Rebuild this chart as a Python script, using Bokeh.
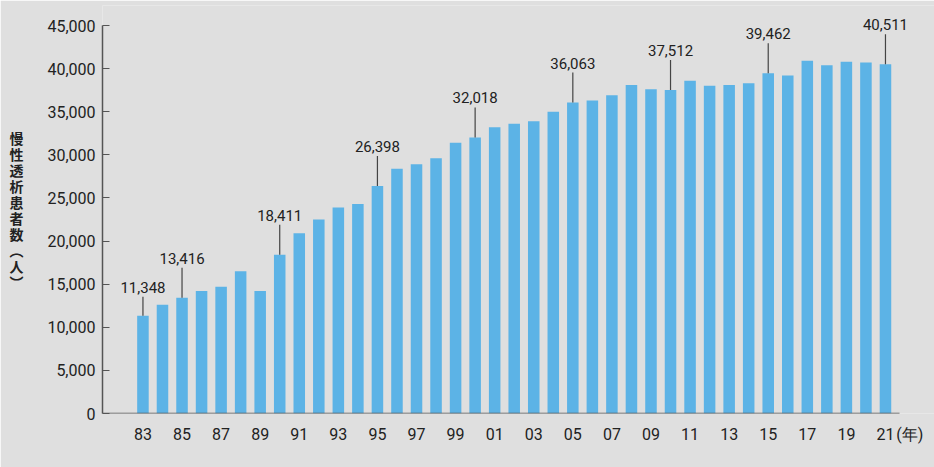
from bokeh.plotting import figure
from bokeh.models import FixedTicker, ColumnDataSource
from bokeh.core.properties import value
from bokeh.embed import file_html
from bokeh.resources import INLINE

years = list(range(1983, 2022))
patients = [11348, 12600, 13416, 14200, 14700, 16500, 14200, 18411, 20900, 22500,
            23900, 24300, 26398, 28400, 28900, 29600, 31400, 32018, 33200, 33600,
            33900, 35000, 36063, 36300, 36900, 38100, 37600, 37512, 38600, 38000,
            38100, 38300, 39462, 39200, 40900, 40400, 40800, 40700, 40511]
label_years = [1983, 1985, 1990, 1995, 2000, 2005, 2010, 2015, 2021]
tick_years = list(range(1983, 2022, 2))
tick_labels = [f"{y % 100:02d}" for y in tick_years]
y_ticks = list(range(0, 45001, 5000))
y_title = "慢\n性\n透\n析\n患\n者\n数\n︵\n人\n︶"
x_unit = "(年)"

BG = "#dfdfdf"
BAR = "#5cb3e6"
TXT = "#222222"
AX = "#555555"

W, H = 934, 467
ML, MR, MT, MB = 102, 0, 5, 54
frame_h = H - MT - MB           # 408 px
Y_AXIS_MAX = 45000
axis_px = 388                   # pixels from 0 to 45,000
upp = Y_AXIS_MAX / axis_px      # data units per pixel
y_end = frame_h * upp

X_START = 1980.93
X_AXIS_END = 2021.72            # where the baseline stops
px_per_year = 19.54
x_end = X_START + (W - ML - MR) / px_per_year
unit_pos = 2022.25              # position of the unit text on the x axis

p = figure(width=W, height=H, output_backend="svg", toolbar_location=None,
           x_range=(X_START, x_end), y_range=(0, y_end),
           min_border_left=ML, min_border_right=MR, min_border_top=MT, min_border_bottom=MB)
p.background_fill_color = BG
p.border_fill_color = BG
p.outline_line_color = None
p.grid.grid_line_color = None

src = ColumnDataSource(dict(x=years, top=patients))
p.vbar(x="x", top="top", width=0.59, source=src, fill_color=BAR, line_color=None)

# baseline (x axis line stops at the last bar)
p.segment(x0=[X_START], y0=[0], x1=[X_AXIS_END], y1=[0], line_color=AX, line_width=1.5)

# x axis
overrides = {y: l for y, l in zip(tick_years, tick_labels)}
overrides[unit_pos] = x_unit
p.xaxis.ticker = FixedTicker(ticks=tick_years + [unit_pos])
p.xaxis.major_label_overrides = overrides
p.xaxis.major_tick_line_color = None
p.xaxis.minor_tick_line_color = None
p.xaxis.axis_line_color = None
p.xaxis.major_label_standoff = 5
p.xaxis.major_label_text_font = "Roboto"
p.xaxis.major_label_text_font_size = "16px"
p.xaxis.major_label_text_color = TXT

# y axis
p.yaxis.bounds = (0, Y_AXIS_MAX)
p.yaxis.ticker = FixedTicker(ticks=y_ticks)
p.yaxis.major_label_overrides = {v: f"{v:,}" for v in y_ticks}
p.yaxis.major_tick_in = 7
p.yaxis.major_tick_out = 0
p.yaxis.major_tick_line_color = AX
p.yaxis.minor_tick_line_color = None
p.yaxis.axis_line_color = AX
p.yaxis.axis_line_width = 1.5
p.yaxis.major_label_standoff = 7
p.yaxis.major_label_text_font = "Roboto"
p.yaxis.major_label_text_font_size = "16px"
p.yaxis.major_label_text_color = TXT
p.yaxis.axis_label = y_title
p.yaxis.axis_label_text_font = "Noto Sans CJK JP"
p.yaxis.axis_label_text_font_size = "14px"
p.yaxis.axis_label_text_font_style = "bold"
p.yaxis.axis_label_text_color = TXT
p.yaxis.axis_label_text_line_height = 0.8
p.yaxis.axis_label_standoff = 21
yax = p.yaxis[0]
if "axis_label_orientation" in yax.properties():
    yax.axis_label_orientation = "horizontal"

# callouts
vals = dict(zip(years, patients))
lx, ly0, ly1, tx, ty, tt = [], [], [], [], [], []
for i, yr in enumerate(label_years):
    v = vals[yr]
    line_px = 19 if i == 0 else 30
    lx.append(yr)
    ly0.append(v)
    ly1.append(v + line_px * upp)
    tx.append(yr)
    ty.append(v + (line_px + 4) * upp)
    tt.append(f"{v:,}")
p.segment(x0=lx, y0=ly0, x1=lx, y1=ly1, line_color="#444444", line_width=1.2)
p.text(x=tx, y=ty, text=tt, text_font=value("Roboto"), text_font_size="15px",
       text_color=TXT, text_align="center", text_baseline="bottom")

open("out.html", "w").write(file_html(p, INLINE))
